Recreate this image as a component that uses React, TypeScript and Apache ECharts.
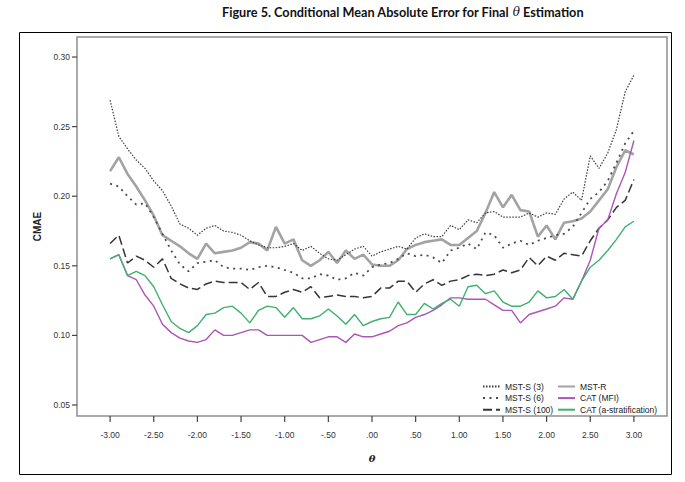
import React, { useEffect, useRef } from "react";
import * as echarts from "echarts";

const theta = [
  -3.0, -2.9, -2.8, -2.7, -2.6, -2.5, -2.4, -2.3, -2.2, -2.1, -2.0,
  -1.9, -1.8, -1.7, -1.6, -1.5, -1.4, -1.3, -1.2, -1.1, -1.0,
  -0.9, -0.8, -0.7, -0.6, -0.5, -0.4, -0.3, -0.2, -0.1, 0.0,
  0.1, 0.2, 0.3, 0.4, 0.5, 0.6, 0.7, 0.8, 0.9, 1.0,
  1.1, 1.2, 1.3, 1.4, 1.5, 1.6, 1.7, 1.8, 1.9, 2.0,
  2.1, 2.2, 2.3, 2.4, 2.5, 2.6, 2.7, 2.8, 2.9, 3.0,
];

const mstS3 = [
  0.269, 0.243, 0.234, 0.226, 0.220, 0.211, 0.204, 0.193, 0.180, 0.177, 0.172,
  0.177, 0.179, 0.175, 0.174, 0.172, 0.168, 0.165, 0.163, 0.163, 0.164,
  0.166, 0.161, 0.164, 0.159, 0.155, 0.154, 0.158, 0.162, 0.164, 0.157,
  0.160, 0.162, 0.164, 0.162, 0.170, 0.173, 0.171, 0.171, 0.179, 0.176,
  0.183, 0.181, 0.188, 0.189, 0.185, 0.185, 0.185, 0.188, 0.185, 0.188,
  0.187, 0.198, 0.203, 0.197, 0.229, 0.220, 0.231, 0.248, 0.275, 0.287,
];

const mstS6 = [
  0.209, 0.207, 0.200, 0.194, 0.195, 0.185, 0.173, 0.161, 0.151, 0.146, 0.152,
  0.153, 0.154, 0.149, 0.148, 0.148, 0.147, 0.149, 0.150, 0.149, 0.147,
  0.145, 0.141, 0.141, 0.144, 0.143, 0.140, 0.141, 0.145, 0.143, 0.149,
  0.151, 0.152, 0.155, 0.159, 0.157, 0.158, 0.156, 0.152, 0.161, 0.163,
  0.166, 0.162, 0.174, 0.172, 0.163, 0.166, 0.168, 0.165, 0.168, 0.170,
  0.172, 0.173, 0.178, 0.188, 0.198, 0.203, 0.211, 0.224, 0.238, 0.247,
];

const mstS100 = [
  0.166, 0.172, 0.152, 0.157, 0.154, 0.149, 0.155, 0.141, 0.137, 0.134, 0.133,
  0.137, 0.139, 0.138, 0.138, 0.138, 0.133, 0.138, 0.128, 0.128, 0.131,
  0.133, 0.131, 0.135, 0.127, 0.128, 0.129, 0.128, 0.128, 0.127, 0.128,
  0.134, 0.134, 0.139, 0.139, 0.131, 0.137, 0.140, 0.136, 0.139, 0.140,
  0.143, 0.144, 0.143, 0.144, 0.147, 0.145, 0.147, 0.156, 0.150, 0.157,
  0.154, 0.159, 0.158, 0.157, 0.168, 0.177, 0.183, 0.192, 0.197, 0.212,
];

const mstR = [
  0.218, 0.228, 0.216, 0.207, 0.197, 0.186, 0.172, 0.168, 0.164, 0.159, 0.155,
  0.166, 0.159, 0.160, 0.161, 0.163, 0.167, 0.166, 0.161, 0.178, 0.166,
  0.169, 0.154, 0.150, 0.154, 0.160, 0.152, 0.161, 0.155, 0.158, 0.151,
  0.150, 0.150, 0.154, 0.162, 0.165, 0.167, 0.168, 0.169, 0.165, 0.165,
  0.170, 0.175, 0.188, 0.203, 0.192, 0.201, 0.190, 0.189, 0.171, 0.179,
  0.169, 0.181, 0.182, 0.184, 0.189, 0.197, 0.205, 0.221, 0.233, 0.230,
];

const catMFI = [
  0.155, 0.158, 0.143, 0.140, 0.129, 0.121, 0.108, 0.102, 0.098, 0.096, 0.095,
  0.097, 0.104, 0.100, 0.100, 0.102, 0.104, 0.104, 0.100, 0.100, 0.100,
  0.100, 0.100, 0.095, 0.097, 0.099, 0.099, 0.095, 0.101, 0.099, 0.099,
  0.101, 0.103, 0.107, 0.109, 0.113, 0.115, 0.118, 0.122, 0.127, 0.127,
  0.126, 0.126, 0.126, 0.122, 0.118, 0.118, 0.109, 0.115, 0.117, 0.119,
  0.121, 0.127, 0.126, 0.139, 0.154, 0.177, 0.183, 0.202, 0.217, 0.240,
];

const catAStrat = [
  0.155, 0.158, 0.143, 0.146, 0.143, 0.135, 0.122, 0.110, 0.105, 0.102, 0.107,
  0.115, 0.116, 0.120, 0.121, 0.116, 0.109, 0.118, 0.121, 0.120, 0.113,
  0.120, 0.112, 0.112, 0.114, 0.119, 0.114, 0.108, 0.115, 0.107, 0.110,
  0.112, 0.113, 0.124, 0.115, 0.115, 0.123, 0.119, 0.123, 0.126, 0.121,
  0.135, 0.136, 0.130, 0.132, 0.124, 0.121, 0.121, 0.124, 0.132, 0.127,
  0.128, 0.133, 0.126, 0.139, 0.149, 0.154, 0.161, 0.169, 0.178, 0.182,
];

const xTicks = [-3, -2.5, -2, -1.5, -1, -0.5, 0, 0.5, 1, 1.5, 2, 2.5, 3];
const yTicks = [0.05, 0.1, 0.15, 0.2, 0.25, 0.3];

const seriesNames = [
  "MST-S (3)",
  "MST-S (6)",
  "MST-S (100)",
  "MST-R",
  "CAT (MFI)",
  "CAT (a-stratification)",
];

const FONT = "'Liberation Sans', Arial, sans-serif";
const GRID = { left: 77, top: 37, width: 590, height: 379 };

function fmtX(v: number): string {
  const s = v.toFixed(2);
  if (s === "0.00" || s === "-0.00") return ".00";
  if (s.startsWith("0.")) return s.slice(1);
  if (s.startsWith("-0.")) return "-" + s.slice(2);
  return s;
}

export default function App() {
  const ref = useRef<HTMLDivElement>(null);
  useEffect(() => {
    if (!ref.current) return;
    const chart = echarts.init(ref.current, undefined, { renderer: "svg" });
    const pair = (arr: number[]) => theta.map((t, i) => [t, arr[i]]);
    const styles = [
      { color: "#3c3c3c", width: 1.2, type: [1.5, 1.5] },
      { color: "#4a4a4a", width: 1.8, type: [2, 4.5] },
      { color: "#363636", width: 1.5, type: [9, 4] },
      { color: "#a3a3a3", width: 2.6, type: "solid" },
      { color: "#a956b4", width: 1.4, type: "solid" },
      { color: "#3fb06e", width: 1.4, type: "solid" },
    ];
    const data = [mstS3, mstS6, mstS100, mstR, catMFI, catAStrat];
    const legendCommon = {
      orient: "vertical",
      top: 376.5,
      itemWidth: 17,
      itemHeight: 10,
      itemGap: 1.6,
      itemStyle: { opacity: 0, borderWidth: 0 },
      textStyle: { fontSize: 8.5, color: "#222", lineHeight: 10 },
    };
    const baseGraphic: any[] = [
      {
        type: "rect",
        id: "frame",
        shape: { x: 19.5, y: 32.5, width: 652, height: 442 },
        style: { fill: "none", stroke: "#000", lineWidth: 1 },
        silent: true,
      },
      {
        type: "rect",
        id: "box",
        shape: { x: GRID.left, y: GRID.top, width: GRID.width, height: GRID.height },
        style: { fill: "none", stroke: "#8f8f8f", lineWidth: 1.5 },
        silent: true,
      },
    ];
    const option: any = {
      animation: false,
      textStyle: { fontFamily: FONT },
      title: {
        text: "Figure 5. Conditional Mean Absolute Error for Final {i|θ} Estimation",
        left: 217,
        top: 0,
        textStyle: {
          fontFamily: "Lato, 'Noto Sans', sans-serif",
          fontWeight: 700,
          fontSize: 12.7,
          color: "#111",
          rich: {
            i: {
              fontFamily: "'DejaVu Serif', serif",
              fontStyle: "italic",
              fontWeight: "normal",
              fontSize: 12,
              color: "#111",
            },
          },
        },
      },
      graphic: baseGraphic,
      grid: { ...GRID, show: false },
      xAxis: {
        type: "value",
        min: -3.379,
        max: 3.379,
        name: "θ",
        nameLocation: "middle",
        nameGap: 37,
        nameTextStyle: {
          fontFamily: "'DejaVu Serif', serif",
          fontStyle: "italic",
          fontWeight: "bold",
          fontSize: 10,
          color: "#222",
        },
        axisLine: { show: false, onZero: false },
        splitLine: { show: false },
        axisTick: { show: false },
        axisLabel: {
          customValues: xTicks,
          formatter: (v: number) => fmtX(v),
          fontSize: 8.5,
          color: "#333",
          margin: 14,
        },
      },
      yAxis: {
        type: "value",
        min: 0.0421,
        max: 0.3144,
        name: "CMAE",
        nameLocation: "middle",
        nameGap: 34,
        nameRotate: 90,
        nameTextStyle: { fontWeight: "bold", fontSize: 10, color: "#222" },
        axisLine: { show: false, onZero: false },
        splitLine: { show: false },
        axisTick: { show: false },
        axisLabel: {
          customValues: yTicks,
          formatter: (v: number) => v.toFixed(2),
          fontSize: 8.5,
          color: "#333",
          margin: 7,
        },
      },
      legend: [
        { ...legendCommon, left: 477, data: seriesNames.slice(0, 3) },
        { ...legendCommon, left: 552, data: seriesNames.slice(3) },
      ],
      series: seriesNames.map((name, k) => ({
        name,
        type: "line",
        data: pair(data[k]),
        symbol: "none",
        showSymbol: false,
        color: styles[k].color,
        lineStyle: {
          color: styles[k].color,
          width: styles[k].width,
          type: styles[k].type,
        },
        z: k === 3 ? 1 : 2,
      })),
    };
    chart.setOption(option);

    try {
      const bottom = GRID.top + GRID.height;
      const tickLines: any[] = [];
      xTicks.forEach((v, i) => {
        const px = chart.convertToPixel({ xAxisIndex: 0 } as any, v) as any as number;
        if (typeof px === "number" && isFinite(px)) {
          tickLines.push({
            type: "line",
            id: "xt" + i,
            shape: { x1: px, y1: bottom, x2: px, y2: bottom + 6 },
            style: { stroke: "#444", lineWidth: 1.2 },
            silent: true,
          });
        }
      });
      yTicks.forEach((v, i) => {
        const py = chart.convertToPixel({ yAxisIndex: 0 } as any, v) as any as number;
        if (typeof py === "number" && isFinite(py)) {
          tickLines.push({
            type: "line",
            id: "yt" + i,
            shape: { x1: GRID.left - 5, y1: py, x2: GRID.left, y2: py },
            style: { stroke: "#444", lineWidth: 1.2 },
            silent: true,
          });
        }
      });
      chart.setOption({ graphic: [...baseGraphic, ...tickLines] });
    } catch (e) {
      // keep chart without extra ticks
    }

    return () => chart.dispose();
  }, []);
  return (
    <div
      ref={ref}
      style={{ position: "fixed", left: 0, top: 0, width: 685, height: 482, background: "#fff" }}
    />
  );
}
